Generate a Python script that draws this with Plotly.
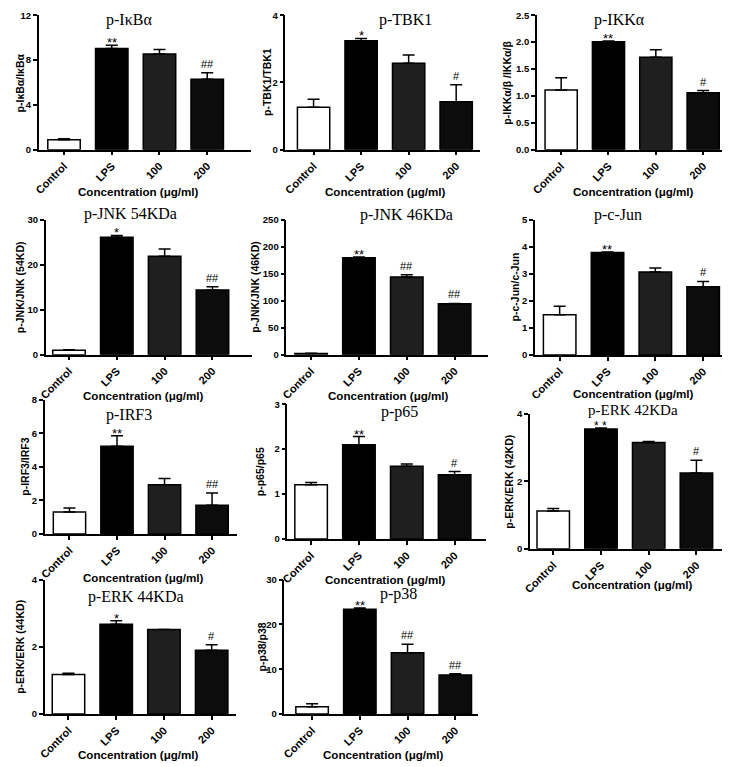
import plotly.graph_objects as go

categories = ["Control", "LPS", "100", "200"]

titles = ["p-IκBα", "p-TBK1", "p-IKKα", "p-JNK 54KDa", "p-JNK 46KDa", "p-c-Jun",
          "p-IRF3", "p-p65", "p-ERK 42KDa", "p-ERK 44KDa", "p-p38"]
ylabels = ["p-IκBα/IκBα", "p-TBK1/TBK1", "p-IKKα/β /IKKα/β", "p-JNK/JNK (54KD)",
           "p-JNK/JNK (46KD)", "p-c-Jun/c-Jun", "p-IRF3/IRF3", "p-p65/p65",
           "p-ERK/ERK (42KD)", "p-ERK/ERK (44KD)", "p-p38/p38"]

ikba_mean = [0.88, 9.03, 8.54, 6.29]
ikba_err = [0.1, 0.3, 0.4, 0.58]
tbk1_mean = [1.26, 3.24, 2.57, 1.43]
tbk1_err = [0.24, 0.07, 0.25, 0.5]
ikk_mean = [1.11, 2.01, 1.72, 1.06]
ikk_err = [0.23, 0.01, 0.14, 0.04]
jnk54_mean = [1.0, 26.1, 21.9, 14.4]
jnk54_err = [0.1, 0.4, 1.6, 0.7]
jnk46_mean = [2.0, 179.5, 144.0, 94.5]
jnk46_err = [0.5, 1.5, 4.0, 0.5]
cjun_mean = [1.49, 3.79, 3.07, 2.52]
cjun_err = [0.31, 0.02, 0.14, 0.2]
irf3_mean = [1.31, 5.22, 2.94, 1.72]
irf3_err = [0.24, 0.63, 0.37, 0.73]
p65_mean = [1.21, 2.1, 1.62, 1.43]
p65_err = [0.05, 0.18, 0.05, 0.07]
erk42_mean = [1.12, 3.56, 3.16, 2.25]
erk42_err = [0.08, 0.03, 0.03, 0.38]
erk44_mean = [1.18, 2.67, 2.52, 1.9]
erk44_err = [0.03, 0.11, 0.0, 0.16]
p38_mean = [1.6, 23.4, 13.7, 8.7]
p38_err = [0.7, 0.25, 1.9, 0.3]

means = [ikba_mean, tbk1_mean, ikk_mean, jnk54_mean, jnk46_mean, cjun_mean,
         irf3_mean, p65_mean, erk42_mean, erk44_mean, p38_mean]
errs = [ikba_err, tbk1_err, ikk_err, jnk54_err, jnk46_err, cjun_err,
        irf3_err, p65_err, erk42_err, erk44_err, p38_err]
sigs = [["", "**", "", "##"], ["", "*", "", "#"], ["", "**", "", "#"],
        ["", "*", "", "##"], ["", "**", "##", "##"], ["", "**", "", "#"],
        ["", "**", "", "##"], ["", "**", "", "#"], ["", "* *", "", "#"],
        ["", "*", "", "#"], ["", "**", "##", "##"]]
ytops = [12, 4, 2.5, 30, 250, 5, 8, 3, 4, 4, 30]
ydticks = [4, 2, 0.5, 10, 50, 1, 2, 1, 2, 2, 10]

bar_colors = ["white", "#000000", "#1f1f1f", "#0c0c0c"]

# the page has an 8px body margin; work in page pixels and convert
OFF = 8
FW, FH = 730 - OFF, 767 - OFF

def px_x(p):
    return min(max((p - OFF) / FW, 0.0), 1.0)

def px_y(p):
    return min(max(1 - (p - OFF) / FH, 0.0), 1.0)

# page-pixel geometry: axis left, axis right, first bar centre, spacing, top y, zero y
geom = [
    (32, 246, 57.5, 48.2, 9.3, 145.7),
    (281, 478, 309.5, 48.0, 9.3, 145.7),
    (535, 730, 559.5, 47.8, 9.3, 145.7),
    (39, 247, 62.5, 48.3, 216.7, 353.7),
    (282, 486, 307.0, 48.3, 216.7, 353.7),
    (533, 730, 558.0, 48.3, 216.7, 354.0),
    (38, 232, 63.0, 48.0, 399.3, 535.7),
    (283, 484, 307.0, 48.3, 404.0, 540.7),
    (528, 730, 551.5, 48.2, 414.0, 550.7),
    (38, 231, 62.0, 48.2, 582.0, 718.3),
    (280, 476, 308.0, 48.2, 582.0, 718.3),
]
title_pos = [(123, 14.5), (402, 14.5), (618, 14.5), (125, 211), (403, 212), (617, 212),
             (123, 415), (396, 412), (632, 410), (130, 600), (395, 597)]
title_size = [16, 16, 16, 16, 16, 16, 16, 16, 15, 16, 16]
ylab_x = [14, 263, 505, 13, 251, 513, 18, 255, 507, 13, 257]
xtitle_pos = [(133, 188), (382, 188), (633, 188), (138, 395), (385, 395), (633, 393.5),
              (138, 580), (382, 582), (632, 587), (133, 759), (380, 759)]

fig = go.Figure()
annotations = []
bold_sans = dict(family="Liberation Sans", color="black", weight="bold")
for i in range(11):
    k = "" if i == 0 else str(i + 1)
    xa, ya = "x" + k, "y" + k
    left, right, c0, s, ytop_px, yzero_px = geom[i]
    xvals = list(range(4))
    fig.add_trace(go.Bar(
        x=xvals, y=means[i], xaxis=xa, yaxis=ya, width=0.68,
        marker=dict(color=bar_colors, line=dict(color="black", width=1.5)),
        error_y=dict(type="data", symmetric=False, array=errs[i],
                     arrayminus=[0, 0, 0, 0], color="black", thickness=1.5, width=6),
        showlegend=False,
    ))
    xr = [(left - c0) / s, (right - c0) / s]
    fig.layout["xaxis" + k] = dict(
        domain=[px_x(left), px_x(right)], anchor=ya, range=xr,
        tickmode="array", tickvals=xvals, ticktext=categories, tickangle=-45,
        showline=True, linecolor="black", linewidth=1.5, ticks="outside",
        ticklen=4, tickwidth=1.5, tickcolor="black", showgrid=False, zeroline=False,
        tickfont=dict(size=11, **bold_sans),
    )
    fig.layout["yaxis" + k] = dict(
        domain=[px_y(yzero_px), px_y(ytop_px)], anchor=xa,
        range=[0, ytops[i]], dtick=ydticks[i], tick0=0,
        tickformat=".1f" if i == 2 else "d",
        showline=True, linecolor="black", linewidth=1.5, ticks="outside",
        ticklen=4, tickwidth=1.5, tickcolor="black", showgrid=False, zeroline=False,
        tickfont=dict(size=9.5, **bold_sans),
    )
    tx, ty = title_pos[i]
    annotations.append(dict(text=titles[i], xref="paper", yref="paper",
                            x=px_x(tx), y=px_y(ty), showarrow=False,
                            xanchor="center", yanchor="middle",
                            font=dict(family="Liberation Serif", size=title_size[i],
                                      color="black")))
    annotations.append(dict(text=ylabels[i], xref="paper", yref="paper",
                            x=px_x(ylab_x[i]), y=px_y((ytop_px + yzero_px) / 2),
                            showarrow=False, textangle=-90, xanchor="center",
                            yanchor="middle", font=dict(size=10.5, **bold_sans)))
    xtx, xty = xtitle_pos[i]
    annotations.append(dict(text="Concentration (μg/ml)", xref="paper", yref="paper",
                            x=px_x(xtx), y=px_y(xty), showarrow=False,
                            xanchor="center", yanchor="middle",
                            font=dict(size=11.6, **bold_sans)))
    for j in range(4):
        mark = sigs[i][j]
        if mark:
            star = "*" in mark
            size = (12 if i == 8 else 13) if star else 11
            annotations.append(dict(text=mark, xref=xa, yref=ya, x=j,
                                    y=means[i][j] + errs[i][j], showarrow=False,
                                    xanchor="center", yanchor="bottom",
                                    yshift=-7 if star else 1,
                                    font=dict(family="Liberation Sans", size=size,
                                              color="black")))

fig.update_layout(width=FW, height=FH, margin=dict(l=0, r=0, t=0, b=0),
                  paper_bgcolor="white", plot_bgcolor="white",
                  annotations=annotations, bargap=0.3)
fig.write_html("out.html")
